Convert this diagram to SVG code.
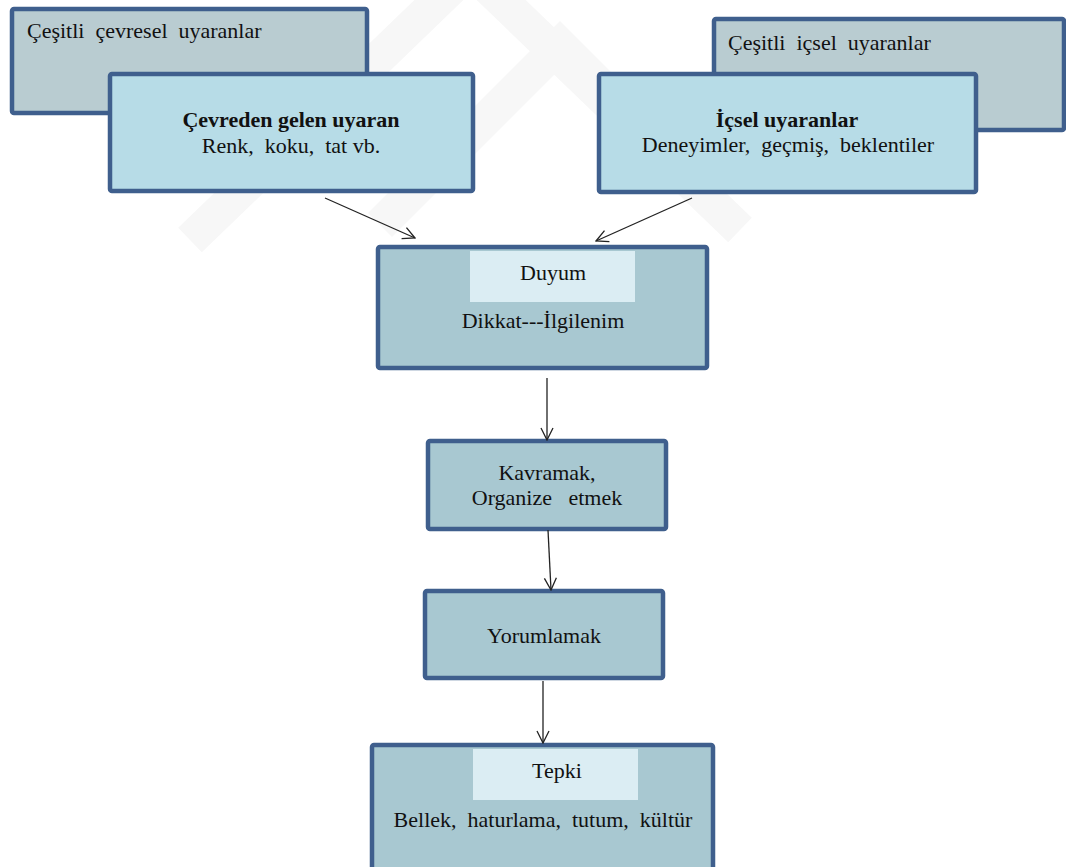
<svg xmlns="http://www.w3.org/2000/svg" width="1066" height="867" viewBox="0 0 1066 867">
<defs>
<style>
.box{stroke:#3f5f8d;stroke-width:4.5;}
.back{fill:#b9ccd1;}
.front{fill:#b7dce7;}
.mid{fill:#a8c8d1;}
.inner{fill:#dbedf3;}
text{font-family:"Liberation Serif","Times New Roman",serif;font-size:22px;fill:#111;}
.c{text-anchor:middle;}
.b{font-weight:bold;}
.conn line{stroke:#222;stroke-width:1.3;fill:none;}
.wm{fill:none;stroke:#f7f7f7;stroke-width:34;}
</style>
<marker id="arr" viewBox="0 0 14 14" refX="13" refY="7" markerWidth="14" markerHeight="14" markerUnits="userSpaceOnUse" orient="auto">
<path d="M1,1 L13,7 L1,13" fill="none" stroke="#222" stroke-width="1.3"/>
</marker>
</defs>
<rect width="1066" height="867" fill="#ffffff"/>
<g id="watermark">
<polyline class="wm" points="190,240 470,-30 740,230"/>
<polyline class="wm" points="380,225 560,45 700,185"/>
</g>
<g id="node-cevresel-bg">
<rect class="box back" x="12" y="9" width="355" height="104" rx="2"/>
<text x="27" y="38" xml:space="preserve">Çeşitli  çevresel  uyaranlar</text>
</g>
<g id="node-cevreden">
<rect class="box front" x="110" y="74" width="363" height="117" rx="2"/>
<text class="c b" x="291" y="127">Çevreden  gelen uyaran</text>
<text class="c" x="291" y="153" xml:space="preserve">Renk,  koku,  tat vb.</text>
</g>
<g id="node-icsel-bg">
<rect class="box back" x="714" y="19" width="350" height="111" rx="2"/>
<text x="728" y="50" xml:space="preserve">Çeşitli  içsel  uyaranlar</text>
</g>
<g id="node-icsel">
<rect class="box front" x="599" y="74" width="377" height="118" rx="2"/>
<text class="c b" x="787" y="127">İçsel uyaranlar</text>
<text class="c" x="788" y="152" xml:space="preserve">Deneyimler,  geçmiş,  beklentiler</text>
</g>
<g id="node-duyum">
<rect class="box mid" x="378" y="247" width="329" height="121" rx="2"/>
<rect class="inner" x="470" y="251" width="165" height="51"/>
<text class="c" x="553" y="280">Duyum</text>
<text class="c" x="543" y="328">Dikkat---İlgilenim</text>
</g>
<g id="node-kavramak">
<rect class="box mid" x="428" y="441" width="238" height="88" rx="2"/>
<text class="c" x="547" y="480">Kavramak,</text>
<text class="c" x="547" y="505" xml:space="preserve">Organize   etmek</text>
</g>
<g id="node-yorumlamak">
<rect class="box mid" x="425" y="591" width="238" height="87" rx="2"/>
<text class="c" x="544" y="643">Yorumlamak</text>
</g>
<g id="node-tepki">
<rect class="box mid" x="372" y="745" width="341" height="130" rx="2"/>
<rect class="inner" x="473" y="749" width="165" height="51"/>
<text class="c" x="557" y="778">Tepki</text>
<text class="c" x="543" y="827" xml:space="preserve">Bellek,  haturlama,  tutum,  kültür</text>
</g>
<g id="connectors" class="conn">
<line x1="325" y1="198" x2="415" y2="238" marker-end="url(#arr)"/>
<line x1="692" y1="198" x2="596" y2="241" marker-end="url(#arr)"/>
<line x1="547" y1="378" x2="547" y2="440" marker-end="url(#arr)"/>
<line x1="548" y1="530" x2="551" y2="590" marker-end="url(#arr)"/>
<line x1="543" y1="681" x2="543" y2="743" marker-end="url(#arr)"/>
</g>
</svg>
